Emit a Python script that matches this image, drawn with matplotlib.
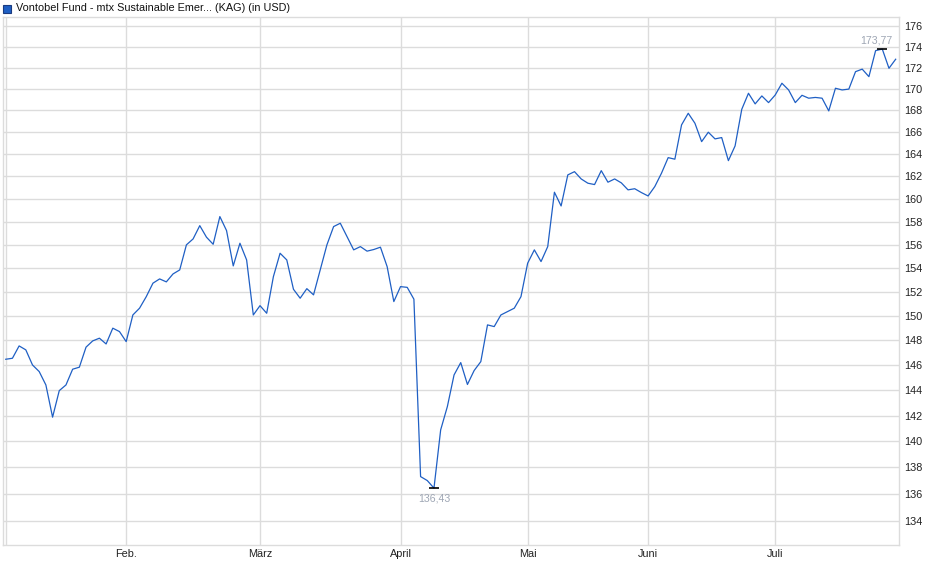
import numpy as np
import matplotlib.pyplot as plt
from matplotlib.patches import Rectangle

plt.rcParams['font.family'] = ['Liberation Sans', 'DejaVu Sans']

title = 'Vontobel Fund - mtx Sustainable Emer... (KAG) (in USD)'

# daily prices (trading days)
prices = [
    146.47, 146.55, 147.55, 147.23, 146.01, 145.48, 144.41, 141.87, 143.96, 144.41,
    145.67, 145.83, 147.45, 147.96, 148.18, 147.71, 149.00, 148.72, 147.90, 150.09,
    150.65, 151.61, 152.74, 153.10, 152.85, 153.52, 153.86, 156.00, 156.51, 157.66,
    156.66, 156.05, 158.45, 157.23, 154.20, 156.14, 154.71, 150.09, 150.86, 150.23,
    153.29, 155.28, 154.71, 152.23, 151.48, 152.28, 151.76, 153.86, 156.00, 157.58,
    157.87, 156.71, 155.57, 155.85, 155.46, 155.60, 155.80, 154.14, 151.20, 152.45,
    152.39, 151.40, 137.30, 137.00, 136.43, 140.88, 142.70, 145.21, 146.20, 144.45,
    145.56, 146.28, 149.27, 149.13, 150.09, 150.37, 150.65, 151.61, 154.43, 155.57,
    154.57, 155.85, 160.59, 159.38, 162.13, 162.42, 161.77, 161.39, 161.27, 162.51,
    161.48, 161.77, 161.42, 160.80, 160.90, 160.56, 160.26, 161.09, 162.28, 163.68,
    163.54, 166.66, 167.73, 166.81, 165.13, 165.99, 165.38, 165.50, 163.41, 164.74,
    168.10, 169.59, 168.60, 169.34, 168.72, 169.43, 170.53, 169.90, 168.72, 169.40,
    169.13, 169.20, 169.13, 167.95, 170.06, 169.90, 169.98, 171.62, 171.86, 171.15,
    173.62, 173.77, 171.94, 172.80,
]

# index of first trading day of each month
month_starts = [0, 18, 38, 59, 78, 96, 115]
month_labels = ['', 'Feb.', 'März', 'April', 'Mai', 'Juni', 'Juli']

y_ticks = list(range(134, 177, 2))

line_color = '#1f5fc4'
grid_color = '#dcdcdc'
label_color = '#9ea6b4'

x = np.arange(len(prices))
prices = np.array(prices)

fig = plt.figure(figsize=(9.4, 5.79), dpi=100)
ax = fig.add_axes([0.0029, 0.0587, 0.9535, 0.9125])

ax.plot(x, prices, color=line_color, linewidth=0.9, zorder=3)

ax.set_yscale('log')
ax.set_ylim(132.22, 176.9)
ax.set_xlim(-0.45, 133.5)

ax.yaxis.tick_right()
ax.set_yticks(y_ticks)
ax.set_yticklabels([str(t) for t in y_ticks])
ax.yaxis.set_minor_locator(plt.NullLocator())
ax.set_xticks(month_starts)
ax.set_xticklabels(month_labels)
ax.tick_params(axis='y', length=0, pad=4, labelsize=7.8, colors='#222222')
ax.tick_params(axis='x', length=0, pad=3, labelsize=7.8, colors='#222222')

ax.grid(True, color=grid_color, linewidth=1.0, zorder=0)
for s in ax.spines.values():
    s.set_color(grid_color)
    s.set_linewidth(1.0)

# high / low markers
i_max = int(np.argmax(prices))
i_min = int(np.argmin(prices))
ax.plot([i_max, i_min], [prices[i_max], prices[i_min]], linestyle='none',
        marker='_', markersize=7, markeredgewidth=1.2, color='black', zorder=4)
ax.annotate(f'{prices[i_max]:.2f}'.replace('.', ','), (i_max, prices[i_max]),
            xytext=(-4, 6), textcoords='offset points', ha='center', va='center',
            fontsize=7.6, color=label_color)
ax.annotate(f'{prices[i_min]:.2f}'.replace('.', ','), (i_min, prices[i_min]),
            xytext=(0, -7.5), textcoords='offset points', ha='center', va='center',
            fontsize=7.6, color=label_color)

# legend-like header
fig.patches.append(Rectangle((3 / 940, 1 - 12.5 / 579), 7.5 / 940, 8 / 579,
                             transform=fig.transFigure, facecolor=line_color,
                             edgecolor='#1b3b80', linewidth=0.8))
fig.text(15.5 / 940, 1 - 8 / 579, title, fontsize=7.8, color='#111111',
         ha='left', va='center')

fig.savefig('out.png', dpi=100)
